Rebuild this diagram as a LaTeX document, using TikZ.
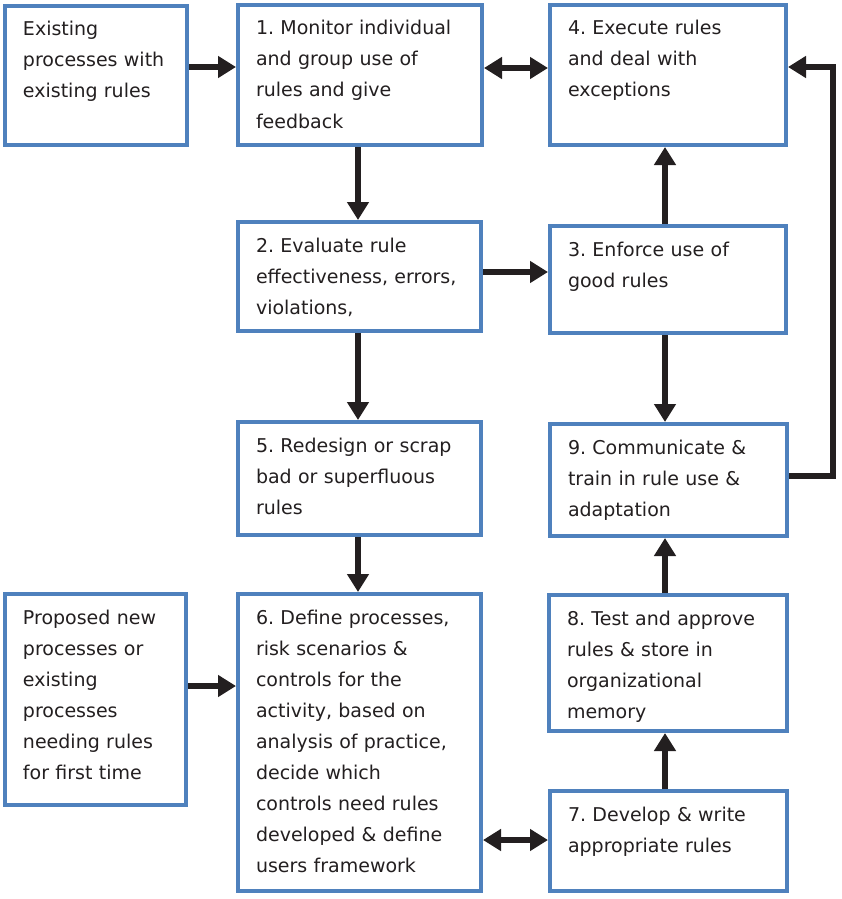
\documentclass[tikz,border=0pt]{standalone}
\usepackage{fontspec}
\setmainfont{DejaVu Sans}
\usetikzlibrary{arrows.meta}
\definecolor{boxblue}{HTML}{4F81BD}
\definecolor{ink}{HTML}{231F20}
\frenchspacing
\begin{document}
\begin{tikzpicture}[x=1pt,y=-1pt,
  box/.style n args={2}{draw=boxblue, line width=4pt, fill=white, inner sep=0pt,
    minimum width=#1, minimum height=#2},
  txt/.style={anchor=north west, inner sep=0pt, outer sep=0pt, text width=240pt,
    align=left, text=ink, font=\fontsize{19}{31}\selectfont},
  tip/.tip={Triangle[length=18pt,width=21pt]},
  arr/.style={draw=ink, line width=5.5pt, -tip},
  biarr/.style={draw=ink, line width=5.5pt, tip-tip},
]
\useasboundingbox[fill=white] (0,0) rectangle (841,899);

% boxes
\node[box={182pt}{139pt}] (bE) at (96,75.5) {};
\node[box={244pt}{140pt}] (b1) at (360,75) {};
\node[box={236pt}{140pt}] (b4) at (668,75) {};
\node[box={243pt}{109pt}] (b2) at (359.5,276.5) {};
\node[box={236pt}{107pt}] (b3) at (668,279.5) {};
\node[box={243pt}{113pt}] (b5) at (359.5,478.5) {};
\node[box={237pt}{112pt}] (b9) at (668.5,480) {};
\node[box={181pt}{211pt}] (bP) at (95.5,699.5) {};
\node[box={243pt}{297pt}] (b6) at (359.5,742.5) {};
\node[box={238pt}{136pt}] (b8) at (668,663) {};
\node[box={237pt}{100pt}] (b7) at (668.5,841) {};

% box texts
\node[txt] (tE) at ([xshift=20pt,yshift=-10.3pt]bE.north west)
  {\strut Existing\\processes with\\existing rules};
\node[txt] (t1) at ([xshift=20pt,yshift=-10.3pt]b1.north west)
  {\strut 1. Monitor individual\\and group use of\\rules and give\\feedback};
\node[txt] (t4) at ([xshift=20pt,yshift=-10.3pt]b4.north west)
  {\strut 4. Execute rules\\and deal with\\exceptions};
\node[txt] (t2) at ([xshift=20pt,yshift=-10.3pt]b2.north west)
  {\strut 2. Evaluate rule\\effectiveness, errors,\\violations,};
\node[txt] (t3) at ([xshift=20pt,yshift=-10.3pt]b3.north west)
  {\strut 3. Enforce use of\\good rules};
\node[txt] (t5) at ([xshift=20pt,yshift=-10.3pt]b5.north west)
  {\strut 5. Redesign or scrap\\bad or superfluous\\rules};
\node[txt] (t9) at ([xshift=20pt,yshift=-10.3pt]b9.north west)
  {\strut 9. Communicate \&\\train in rule use \&\\adaptation};
\node[txt] (tP) at ([xshift=20pt,yshift=-10.3pt]bP.north west)
  {\strut Proposed new\\processes or\\existing\\processes\\needing rules\\for first time};
\node[txt] (t6) at ([xshift=20pt,yshift=-10.3pt]b6.north west)
  {\strut 6. Define processes,\\risk scenarios \&\\controls for the\\activity, based on\\analysis of practice,\\decide which\\controls need rules\\developed \& define\\users framework};
\node[txt] (t8) at ([xshift=20pt,yshift=-10.3pt]b8.north west)
  {\strut 8. Test and approve\\rules \& store in\\organizational\\memory};
\node[txt] (t7) at ([xshift=20pt,yshift=-10.3pt]b7.north west)
  {\strut 7. Develop \& write\\appropriate rules};

% corner of the feedback loop on the right
\coordinate (loop) at (833,0);

% connectors
\draw[arr] ([yshift=8.5pt]bE.east) -- ([yshift=8.5pt]bE.east -| b1.west);
\draw[biarr] ([yshift=7pt]b1.east) -- ([yshift=7pt]b1.east -| b4.west);
\draw[arr] ([xshift=-2pt]b1.south) -- ([xshift=-2pt]b1.south |- b2.north);
\draw[arr] ([yshift=4.5pt]b2.east) -- ([yshift=4.5pt]b2.east -| b3.west);
\draw[arr] ([xshift=-3pt]b3.north) -- ([xshift=-3pt]b3.north |- b4.south);
\draw[arr] ([xshift=-3pt]b3.south) -- ([xshift=-3pt]b3.south |- b9.north);
\draw[arr] ([xshift=-1.5pt]b2.south) -- ([xshift=-1.5pt]b2.south |- b5.north);
\draw[arr] ([xshift=-1.5pt]b5.south) -- ([xshift=-1.5pt]b5.south |- b6.north);
\draw[arr] ([yshift=13.5pt]bP.east) -- ([yshift=13.5pt]bP.east -| b6.west);
\draw[biarr] ([yshift=1pt]b7.west -| b6.east) -- ([yshift=1pt]b7.west);
\draw[arr] ([xshift=-3.5pt]b7.north) -- ([xshift=-3.5pt]b7.north |- b8.south);
\draw[arr] ([xshift=-3pt]b8.north) -- ([xshift=-3pt]b8.north |- b9.south);
\draw[arr] ([yshift=4pt]b9.east) -- ([yshift=4pt]b9.east -| loop)
  |- ([yshift=8pt]b4.east);
\end{tikzpicture}
\end{document}
